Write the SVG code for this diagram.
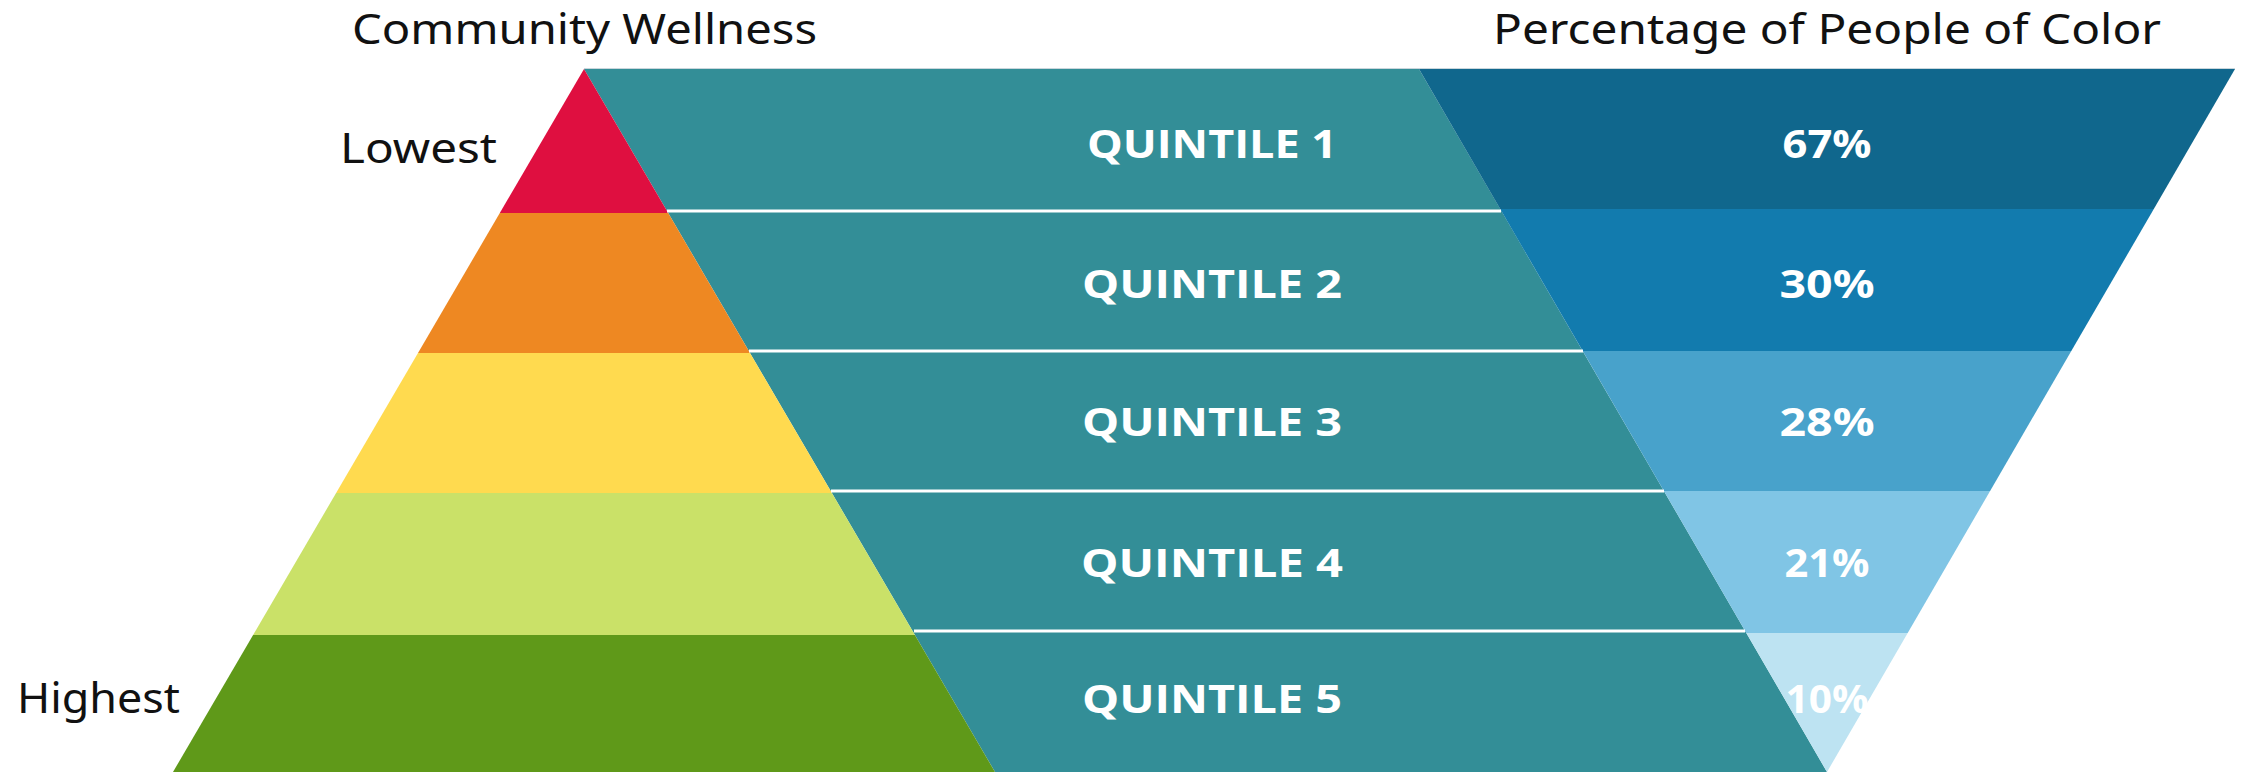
<svg xmlns="http://www.w3.org/2000/svg" width="2244" height="772" viewBox="0 0 2244 772">
<style>
.hd{font-family:"Noto Sans","Liberation Sans",sans-serif;font-size:41px;fill:#111;}
.q{font-family:"Open Sans","Liberation Sans",sans-serif;font-weight:700;font-size:40px;fill:#fff;text-anchor:middle;}
.sep{stroke:#fff;stroke-width:3;}
</style>
<rect width="2244" height="772" fill="#fff"/>
<g id="teal-band">
<polygon points="584,69 1419,69 1827,772 995,772" fill="#338E97"/>
</g>
<g id="pyramid">
<polygon id="p1" points="584,69 668.2,213 499.8,213" fill="#DF0F40"/>
<polygon id="p2" points="499.8,213 668.2,213 750,353 418,353" fill="#EE8822"/>
<polygon id="p3" points="418,353 750,353 831.9,493 336.1,493" fill="#FFDA4F"/>
<polygon id="p4" points="336.1,493 831.9,493 914.9,635 253.1,635" fill="#CAE168"/>
<polygon id="p5" points="253.1,635 914.9,635 995,772 173,772" fill="#5F9919"/>
</g>
<g id="funnel">
<polygon id="b1" points="1419,69 2235,69 2153.8,209 1500.2,209" fill="#10678D"/>
<polygon id="b2" points="1500.2,209 2153.8,209 2071.3,351 1582.7,351" fill="#127BAE"/>
<polygon id="b3" points="1582.7,351 2071.3,351 1990.1,491 1663.9,491" fill="#48A2CB"/>
<polygon id="b4" points="1663.9,491 1990.1,491 1907.7,633 1746.3,633" fill="#80C5E5"/>
<polygon id="b5" points="1746.3,633 1907.7,633 1827,772" fill="#BDE3F2"/>
</g>
<g id="separators">
<line class="sep" x1="667" y1="211" x2="1501" y2="211"/>
<line class="sep" x1="749" y1="351" x2="1583" y2="351"/>
<line class="sep" x1="831" y1="491" x2="1664" y2="491"/>
<line class="sep" x1="914" y1="631" x2="1745" y2="631"/>
<line x1="584" y1="68.5" x2="2235" y2="68.5" stroke="#c9d6dc" stroke-width="1"/>
</g>
<g id="headers">
<text class="hd" x="352" y="44" textLength="465" lengthAdjust="spacingAndGlyphs">Community Wellness</text>
<text class="hd" x="1493" y="44" textLength="668" lengthAdjust="spacingAndGlyphs">Percentage of People of Color</text>
<text class="hd" x="340" y="163" textLength="157" lengthAdjust="spacingAndGlyphs">Lowest</text>
<text class="hd" x="17" y="713" textLength="163" lengthAdjust="spacingAndGlyphs">Highest</text>
</g>
<g id="quintiles">
<text class="q" x="1212" y="158" textLength="250" lengthAdjust="spacingAndGlyphs">QUINTILE 1</text>
<text class="q" x="1212" y="298" textLength="260" lengthAdjust="spacingAndGlyphs">QUINTILE 2</text>
<text class="q" x="1212" y="436" textLength="260" lengthAdjust="spacingAndGlyphs">QUINTILE 3</text>
<text class="q" x="1212" y="577" textLength="262" lengthAdjust="spacingAndGlyphs">QUINTILE 4</text>
<text class="q" x="1212" y="713" textLength="260" lengthAdjust="spacingAndGlyphs">QUINTILE 5</text>
</g>
<g id="percentages">
<text class="q" x="1827" y="158" textLength="89" lengthAdjust="spacingAndGlyphs">67%</text>
<text class="q" x="1827" y="298" textLength="95" lengthAdjust="spacingAndGlyphs">30%</text>
<text class="q" x="1827" y="436" textLength="95" lengthAdjust="spacingAndGlyphs">28%</text>
<text class="q" x="1827" y="577" textLength="85" lengthAdjust="spacingAndGlyphs">21%</text>
<text class="q" x="1827" y="713" textLength="83" lengthAdjust="spacingAndGlyphs">10%</text>
</g>
</svg>
